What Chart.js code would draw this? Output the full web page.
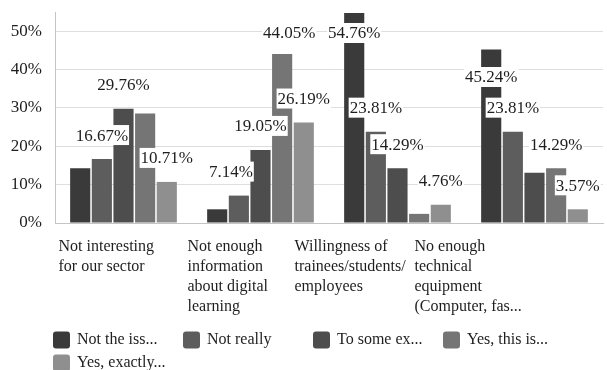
<!DOCTYPE html>
<html>
<head>
<meta charset="utf-8">
<script src="https://cdn.jsdelivr.net/npm/chart.js@4.4.0/dist/chart.umd.min.js"></script>
<style>
  html, body { margin: 0; padding: 0; background: #fff; }
  #wrap { width: 607px; height: 370px; }
</style>
</head>
<body>
<div id="wrap"><canvas id="chart"></canvas></div>
<script>
// ---------- data ----------
const categories = [
  ['Not interesting', 'for our sector'],
  ['Not enough', 'information', 'about digital', 'learning'],
  ['Willingness of', 'trainees/students/', 'employees'],
  ['No enough', 'technical', 'equipment', '(Computer, fas...']
];
const seriesNames  = ['Not the iss...', 'Not really', 'To some ex...', 'Yes, this is...', 'Yes, exactly...'];
const notTheIssue  = [14.29, 3.57, 54.76, 45.24];
const notReally    = [16.67, 7.14, 23.81, 23.81];
const toSomeExtent = [29.76, 19.05, 14.29, 13.10];
const yesThisIs    = [28.57, 44.05, 2.38, 14.29];
const yesExactly   = [10.71, 26.19, 4.76, 3.57];
const yTicks       = [0, 10, 20, 30, 40, 50];

const seriesValues = [notTheIssue, notReally, toSomeExtent, yesThisIs, yesExactly];
const grays = ['#3a3a3a', '#5d5d5d', '#4d4d4d', '#757575', '#8f8f8f'];
const serif = '"Liberation Serif", "Times New Roman", serif';
const ink = '#1e1e1e';

// value labels: which ones are skipped and small nudges (dataset:index)
const hiddenLabels = ['0:0', '3:0', '0:1', '3:2', '2:3'];
const labelNudge = { '1:1': [-8, 0], '3:1': [7, 0], '0:3': [0, 44] };

// left-aligned category label blocks, shifted from each category centre
const catLabelShift = [-65, -73, -103, -120];

const valueLabels = {
  id: 'valueLabels',
  afterDatasetsDraw(chart) {
    const ctx = chart.ctx, area = chart.chartArea;
    ctx.save();
    ctx.font = '17px ' + serif;
    ctx.textAlign = 'center';
    ctx.textBaseline = 'middle';
    chart.data.datasets.forEach((ds, di) => {
      chart.getDatasetMeta(di).data.forEach((bar, i) => {
        const key = di + ':' + i;
        if (hiddenLabels.includes(key)) return;
        const txt = ds.data[i].toFixed(2) + '%';
        const [dx, dy] = labelNudge[key] || [0, 0];
        const x = bar.x + dx;
        const y = Math.max(bar.y - 24, area.top + 21) + dy;
        const w = ctx.measureText(txt).width + 2;
        ctx.fillStyle = '#fff';
        ctx.fillRect(x - w / 2, y - 10, w, 20);
        ctx.fillStyle = ink;
        ctx.fillText(txt, x, y + 1);
      });
    });
    ctx.restore();
  }
};

const categoryLabels = {
  id: 'categoryLabels',
  afterDraw(chart) {
    const ctx = chart.ctx, xs = chart.scales.x, area = chart.chartArea;
    ctx.save();
    ctx.font = '16px ' + serif;
    ctx.fillStyle = ink;
    ctx.textAlign = 'left';
    ctx.textBaseline = 'middle';
    chart.data.labels.forEach((lines, i) => {
      const x = xs.getPixelForValue(i) + catLabelShift[i];
      lines.forEach((line, k) => ctx.fillText(line, x, area.bottom + 24 + k * 20));
    });
    ctx.restore();
  }
};

const gridLegend = {
  id: 'gridLegend',
  afterDraw(chart) {
    const ctx = chart.ctx;
    ctx.save();
    ctx.font = '16px ' + serif;
    ctx.textBaseline = 'middle';
    ctx.textAlign = 'left';
    chart.data.datasets.forEach((ds, i) => {
      const x = 53 + (i % 4) * 130;
      const cy = 340 + Math.floor(i / 4) * 23;
      ctx.fillStyle = ds.backgroundColor;
      ctx.beginPath();
      ctx.roundRect(x, cy - 8.5, 17, 17, 3);
      ctx.fill();
      ctx.fillStyle = ink;
      ctx.fillText(ds.label, x + 24, cy);
    });
    ctx.restore();
  }
};

new Chart(document.getElementById('chart'), {
  type: 'bar',
  data: {
    labels: categories,
    datasets: seriesNames.map((name, i) => ({
      label: name,
      data: seriesValues[i],
      backgroundColor: grays[i],
      barPercentage: 0.93,
      categoryPercentage: 0.79
    }))
  },
  options: {
    responsive: true,
    maintainAspectRatio: false,
    animation: false,
    layout: { padding: { top: 12, right: 4, bottom: 53, left: 0 } },
    plugins: { legend: { display: false }, tooltip: { enabled: false } },
    scales: {
      x: {
        grid: { display: false, drawTicks: false },
        border: { color: '#c4c4c4' },
        ticks: { display: false },
        afterFit: (axis) => {
          axis.height = 94;
          axis.paddingLeft = 0;
          axis.paddingRight = 0;
        }
      },
      y: {
        min: 0, max: 55,
        afterBuildTicks: (axis) => { axis.ticks = yTicks.map(v => ({ value: v })); },
        afterFit: (axis) => {
          axis.width = 55;
          axis.paddingTop = 0;
          axis.paddingBottom = 0;
        },
        grid: { color: '#dedede', drawTicks: false },
        border: { color: '#c4c4c4' },
        ticks: {
          padding: 13,
          color: ink,
          font: { family: serif, size: 17 },
          callback: (v) => v + '%'
        }
      }
    }
  },
  plugins: [valueLabels, categoryLabels, gridLegend]
});
</script>
</body>
</html>
